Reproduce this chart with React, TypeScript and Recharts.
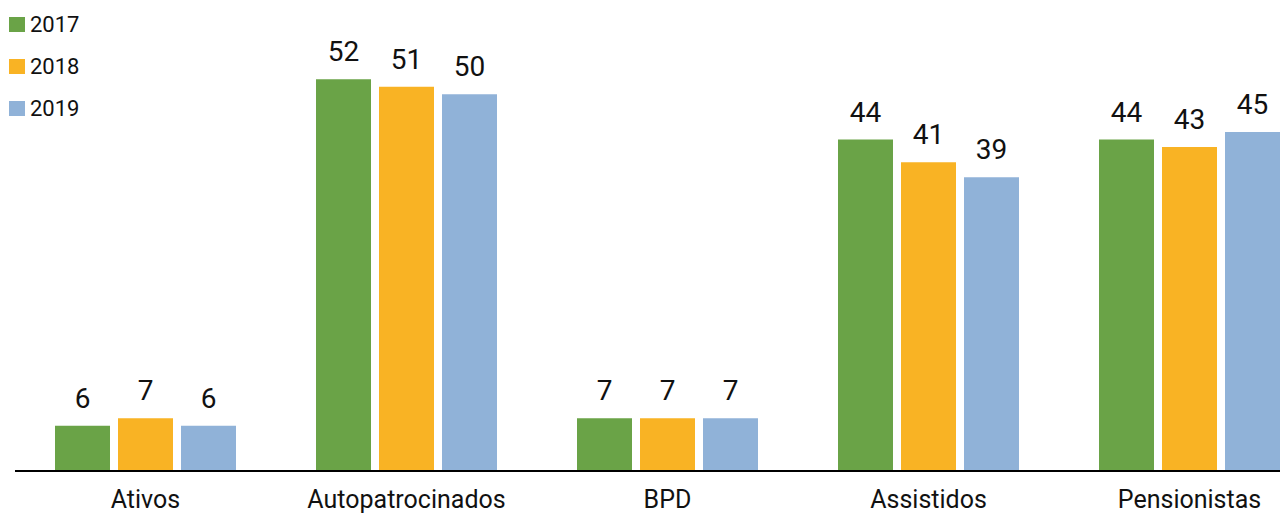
import React from 'react';
import { BarChart, Bar, XAxis, YAxis, Legend, LabelList } from 'recharts';

const categories = ['Ativos', 'Autopatrocinados', 'BPD', 'Assistidos', 'Pensionistas'];
const values2017 = [6, 52, 7, 44, 44];
const values2018 = [7, 51, 7, 41, 43];
const values2019 = [6, 50, 7, 39, 45];

const SERIES = [
  { key: 'y2017', name: '2017', color: '#6aa347' },
  { key: 'y2018', name: '2018', color: '#f9b324' },
  { key: 'y2019', name: '2019', color: '#90b2d8' },
];

const data = categories.map((name, i) => ({
  name,
  y2017: values2017[i],
  y2018: values2018[i],
  y2019: values2019[i],
}));

const FONT = 'Roboto, "Noto Sans", sans-serif';

// legend drawn as plain html, stacked top-left
const renderLegend = () => (
  <div style={{ fontFamily: FONT, fontSize: 22, color: '#111' }}>
    {SERIES.map((s) => (
      <div key={s.key} style={{ display: 'flex', alignItems: 'center', height: 42 }}>
        <span
          style={{ width: 16, height: 15, background: s.color, display: 'inline-block', marginRight: 5 }}
        />
        <span>{s.name}</span>
      </div>
    ))}
  </div>
);

export default function App() {
  return (
    <div style={{ width: 1280, overflow: 'hidden' }}>
      <BarChart
        width={1312}
        height={507}
        data={data}
        margin={{ top: 11, right: 0, left: 7, bottom: 0 }}
        barGap={8}
        barCategoryGap={40}
      >
        <XAxis
          dataKey="name"
          axisLine={{ stroke: '#000', strokeWidth: 2 }}
          tickLine={false}
          tickMargin={13}
          height={44}
          interval={0}
          tick={{ fill: '#111', fontSize: 25, fontFamily: FONT }}
        />
        <YAxis hide domain={[0, 60]} />
        <Legend
          content={renderLegend}
          layout="vertical"
          verticalAlign="middle"
          align="center"
          wrapperStyle={{ left: 1, top: -5, width: 120 }}
        />
        {SERIES.map((s) => (
          <Bar key={s.key} dataKey={s.key} name={s.name} fill={s.color} barSize={55} isAnimationActive={false}>
            <LabelList
              dataKey={s.key}
              position="top"
              offset={18}
              fill="#111"
              fontSize={28}
              fontFamily={FONT}
            />
          </Bar>
        ))}
      </BarChart>
    </div>
  );
}
